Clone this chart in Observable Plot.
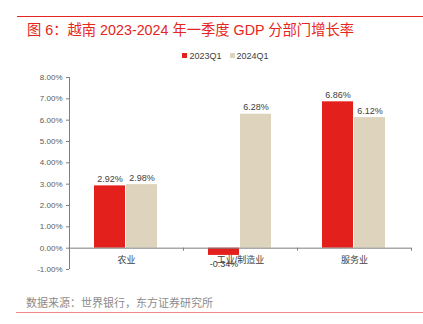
<!DOCTYPE html>
<html><head><meta charset="utf-8">
<script src="https://cdn.jsdelivr.net/npm/d3@7"></script>
<script src="https://cdn.jsdelivr.net/npm/@observablehq/plot@0.6"></script>
<style>
html,body{margin:0;padding:0;background:#fff;}
#wrap{position:relative;width:423px;height:324px;overflow:hidden;font-family:"Liberation Sans","Noto Sans CJK SC",sans-serif;}
#topline{position:absolute;left:17px;top:16px;width:406px;height:1px;background:#E52521;}
#title{position:absolute;left:27px;top:18px;font-size:14.3px;color:#E52521;white-space:nowrap;font-family:"Liberation Sans","Noto Sans CJK SC",sans-serif;}
#legend{position:absolute;top:51px;left:0;width:423px;text-align:center;font-size:9px;color:#404040;padding-left:28px;box-sizing:border-box;}
#legend span.sw{display:inline-block;width:5px;height:5px;margin-right:2px;vertical-align:1px;}
#legend span.item{margin:0 4px;}
#chart{position:absolute;left:0;top:65px;}
#source{position:absolute;left:26px;top:294px;font-size:11px;color:#8c8c8c;white-space:nowrap;font-family:"Noto Sans CJK SC",sans-serif;}
#botline{position:absolute;left:16px;top:312px;width:407px;height:1px;background:#F08A86;}
</style></head>
<body>
<div id="wrap">
  <div id="topline"></div>
  <div id="title">图 6：越南 2023-2024 年一季度 GDP 分部门增长率</div>
  <div id="legend"></div>
  <div id="chart"></div>
  <div id="source">数据来源：世界银行，东方证券研究所</div>
  <div id="botline"></div>
</div>
<script>
const categories = ["农业", "工业/制造业", "服务业"];
const series = ["2023Q1", "2024Q1"];
const values2023 = [0.0292, -0.0034, 0.0686];
const values2024 = [0.0298, 0.0628, 0.0612];
const yTicks = [-0.01, 0, 0.01, 0.02, 0.03, 0.04, 0.05, 0.06, 0.07, 0.08];
const colors = ["#E3201B", "#DED4BE"];

const data = [];
categories.forEach((c, i) => {
  data.push({cat: c, s: series[0], v: values2023[i]});
  data.push({cat: c, s: series[1], v: values2024[i]});
});
const pct = d => (d * 100).toFixed(2) + "%";

// legend
const leg = document.getElementById("legend");
series.forEach((s, i) => {
  const it = document.createElement("span");
  it.className = "item";
  it.innerHTML = `<span class="sw" style="background:${colors[i]}"></span>${s}`;
  leg.appendChild(it);
});

const plot = Plot.plot({
  width: 423,
  height: 215,
  marginLeft: 68,
  marginRight: 11,
  marginTop: 12,
  marginBottom: 11,
  style: {fontFamily: '"Liberation Sans","Noto Sans CJK SC",sans-serif', background: "transparent"},
  fx: {domain: categories, padding: 0, axis: null},
  x: {domain: series, paddingInner: 0.02, paddingOuter: 0.74, axis: null},
  y: {domain: [-0.01, 0.08], axis: null},
  color: {domain: series, range: colors},
  marks: [
    Plot.barY(data, {fx: "cat", x: "s", y: "v", fill: "s"}),
    Plot.ruleY([0], {stroke: "#7f7f7f", strokeWidth: 1}),
    Plot.axisY({ticks: yTicks, tickFormat: pct, tickSize: 3, tickPadding: 4, fontSize: 8, stroke: "#7f7f7f", fill: "#595959", anchor: "left", label: null}),
    Plot.text(data.filter(d => d.v >= 0), {fx: "cat", x: "s", y: "v", text: d => pct(d.v), dy: -4, lineAnchor: "bottom", fontSize: 9, fill: "#404040"}),
    Plot.text(data.filter(d => d.v < 0), {fx: "cat", x: "s", y: "v", text: d => pct(d.v), dy: 5, lineAnchor: "top", fontSize: 9, fill: "#404040"}),
    Plot.text(categories, {fx: d => d, y: 0, text: d => d, dy: 12, fontSize: 9, fill: "#404040"})
  ]
});
document.getElementById("chart").appendChild(plot);

// axis line and category boundary ticks drawn from Plot's scales
const fx = plot.scale("fx"), y = plot.scale("y");
const svg = d3.select(plot);
const x0 = fx.apply(categories[0]);
const g = svg.append("g").attr("stroke", "#7f7f7f").attr("stroke-width", 1);
g.append("line").attr("x1", x0 + 0.5).attr("x2", x0 + 0.5)
  .attr("y1", y.apply(yTicks[yTicks.length - 1])).attr("y2", y.apply(yTicks[0]));
const edges = categories.map(c => fx.apply(c)).concat([fx.apply(categories[categories.length - 1]) + fx.bandwidth]);
edges.forEach(e => {
  g.append("line").attr("x1", e + 0.5).attr("x2", e + 0.5)
    .attr("y1", y.apply(0)).attr("y2", y.apply(0) + 3);
});
</script>
</body></html>
